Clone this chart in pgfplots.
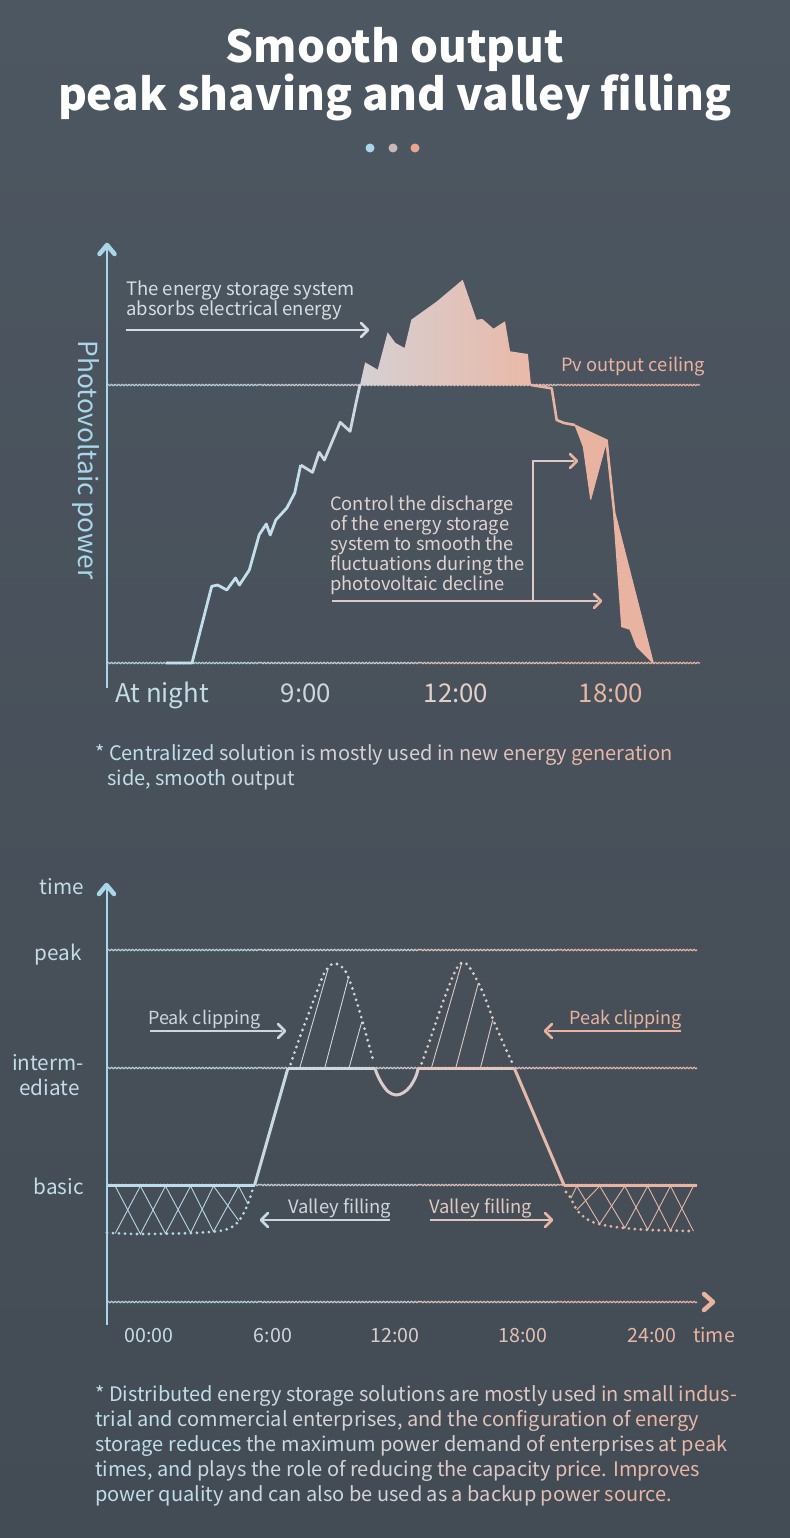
\documentclass[border=0pt]{standalone}
\usepackage{pgfplots}
\pgfplotsset{compat=1.18}
\usepackage{fontspec}
\setmainfont{Noto Sans CJK SC}
\usetikzlibrary{decorations.pathmorphing}
\newcommand{\fs}[1]{\fontsize{#1bp}{#1bp}\selectfont}
\definecolor{bgtop}{HTML}{4D5761}
\definecolor{bgbot}{HTML}{434B54}
\definecolor{axblue}{HTML}{A9D7EA}
\definecolor{c0}{HTML}{C3DCE8}
\definecolor{c1}{HTML}{CFD5DC}
\definecolor{c2}{HTML}{D8CDCD}
\definecolor{c3}{HTML}{E0C0B6}
\definecolor{c4}{HTML}{E8B6A5}
\definecolor{t0}{HTML}{C0DDEA}
\definecolor{t1}{HTML}{C9D8E0}
\definecolor{t2}{HTML}{D3D2D6}
\definecolor{t3}{HTML}{DBC9C7}
\definecolor{t4}{HTML}{E1BFB4}
\definecolor{t5}{HTML}{E7B6A5}
\definecolor{s0}{HTML}{B3CEDA}
\definecolor{s1}{HTML}{C8C9CE}
\definecolor{s2}{HTML}{D8BEB6}
\definecolor{s3}{HTML}{E1B3A4}
\definecolor{pvblue}{HTML}{C2DFEB}
\definecolor{pvmid}{HTML}{CCD9E0}
\definecolor{pk0}{HTML}{D6D0D3}
\definecolor{pk1}{HTML}{E9B9A8}
\definecolor{salmon}{HTML}{E8B3A1}
\definecolor{ann1}{HTML}{D6DCE1}
\definecolor{ann2}{HTML}{DFD3D1}
\definecolor{ann2l}{HTML}{DCCAC5}
\definecolor{d1}{HTML}{A9D6EA}
\definecolor{d2}{HTML}{C8B8B8}
\definecolor{d3}{HTML}{E7A68F}
\definecolor{sl0}{HTML}{BEDDEB}
\definecolor{sl1}{HTML}{C9D9E2}
\definecolor{sl2}{HTML}{D0D6DC}
\definecolor{sl3}{HTML}{D9CDCC}
\definecolor{sl4}{HTML}{DFC6BF}
\definecolor{sl5}{HTML}{E4BAAC}
\definecolor{sl6}{HTML}{E8B3A1}
\definecolor{dv1}{HTML}{B5D6E5}
\definecolor{dp1}{HTML}{CCD6DE}
\definecolor{dp2}{HTML}{DCCAC5}
\definecolor{dv2}{HTML}{E3B5A6}
\definecolor{vf1}{HTML}{D0D5DB}
\definecolor{vf2}{HTML}{DEC7C1}
\tikzset{every node/.style={inner sep=0pt},
  wavy/.style={line width=1.2bp, decorate, decoration={snake, amplitude=0.7bp, segment length=3.5bp}},
  dotc/.style={line width=3.1bp, line cap=round, dash pattern=on 0bp off 6bp},
  chev/.style={line width=2.6bp, line cap=round, line join=round}}
\begin{document}
\begin{tikzpicture}
\shade[top color=bgtop, bottom color=bgbot] (0bp,0bp) rectangle (790bp,-1538bp);
% title
\node[anchor=base, text=white, font=\fs{44}\bfseries] at (395bp,-62bp) {Smooth output};
\node[anchor=base, text=white, font=\fs{44}\bfseries] at (395bp,-110bp) {peak shaving and valley filling};
\fill[d1] (370bp,-148bp) circle (4.5bp);
\fill[d2] (393bp,-148bp) circle (4.5bp);
\fill[d3] (415bp,-148bp) circle (4.5bp);

% ---------------- chart 1 ----------------
\begin{axis}[at={(107bp,-663bp)}, anchor=south west, scale only axis,
  width=593bp, height=420bp, xmin=107, xmax=700, ymin=0, ymax=420,
  hide axis, clip=false]
\pgfplotsinvokeforeach{0,278}{
  \addplot[wavy, color=s0] coordinates {(107,#1) (260,#1)};
  \addplot[wavy, color=s1] coordinates {(260,#1) (420,#1)};
  \addplot[wavy, color=s2] coordinates {(420,#1) (560,#1)};
  \addplot[wavy, color=s3] coordinates {(560,#1) (700,#1)};
}
\addplot[draw=none, left color=pk0, right color=pk1] coordinates {
 (360,278) (365.1,300.7) (377.7,293.3) (387.6,330.7) (395.5,320) (404.6,315)
 (411.3,343.3) (437,361.7) (462.7,383.3) (476.5,343.3) (482.4,344) (493.5,334.3)
 (505,341.7) (510.1,311.7) (527.9,309) (531,278)} -- cycle;
\addplot[color=salmon, fill=salmon, line width=1bp, line join=round] coordinates {
 (575,238) (607.3,223) (615,150) (653.3,0) (648.3,4.7) (636.7,16.3) (630,33.7)
 (621.7,36.3) (613.5,150) (606,220) (590.7,163.7) (583.3,216.3)} -- cycle;
\addplot[color=pvblue, line width=2.8bp, line join=round] coordinates {
 (166,0) (192,0) (211.7,76.7) (217.7,78) (226.8,73) (235.5,85) (239.4,78) (249.3,93)
 (259.2,128.3) (266.3,139) (270.2,128) (275.8,143) (286.8,155) (294.7,170) (300.7,198)};
\addplot[color=pvmid, line width=2.8bp, line join=round] coordinates {
 (300.7,198) (312.5,190.7) (319.2,210.7) (324.4,203) (340.2,240.7) (350.1,231.7) (356,260) (360,278)};
\addplot[color=salmon, line width=2.6bp, line join=round] coordinates {
 (531,278) (551.7,274.7) (556.7,243) (564,240) (575,238)};
\draw[axblue, line width=2bp] (axis cs:107,-25) -- (axis cs:107,416);
\draw[axblue, chev, line width=4.5bp] (axis cs:99.5,409) -- (axis cs:107,418) -- (axis cs:114.5,409);
\end{axis}

\node[rotate=-90, text=axblue, font=\fs{26.3}] at (86bp,-460bp) {Photovoltaic power};
\node[anchor=base, text=c0, font=\fs{25.8}] at (162bp,-702bp) {At night};
\node[anchor=base, text=c1, font=\fs{25.8}] at (306bp,-702bp) {9:00};
\node[anchor=base, text={rgb,255:red,228;green,208;blue,202}, font=\fs{25.8}] at (456bp,-702bp) {12:00};
\node[anchor=base, text=c4, font=\fs{25.8}] at (611bp,-702bp) {18:00};

\node[anchor=base west, text=ann1, font=\fs{18.5}] at (126bp,-295bp) {The energy storage system};
\node[anchor=base west, text=ann1, font=\fs{18.5}] at (126bp,-315bp) {absorbs electrical energy};
\draw[ann1, line width=1.3bp] (126bp,-330bp) -- (366bp,-330bp);
\draw[ann1, chev] (361bp,-323bp) -- (368bp,-330bp) -- (361bp,-337bp);
\node[anchor=base west, text=salmon, font=\fs{18.3}] at (561bp,-371bp) {Pv output ceiling};

\node[anchor=base west, text=ann2, font=\fs{18.3}] at (330bp,-510bp) {Control the discharge};
\node[anchor=base west, text=ann2, font=\fs{18.3}] at (330bp,-530bp) {of the energy storage};
\node[anchor=base west, text=ann2, font=\fs{18.3}] at (330bp,-550bp) {system to smooth the};
\node[anchor=base west, text=ann2, font=\fs{18.3}] at (330bp,-570bp) {fluctuations during the};
\node[anchor=base west, text=ann2, font=\fs{18.3}] at (330bp,-590bp) {photovoltaic decline};
\draw[ann2l, line width=1.3bp] (574bp,-461bp) -- (533bp,-461bp) -- (533bp,-601bp);
\draw[ann2l, line width=1.3bp] (332bp,-601bp) -- (598bp,-601bp);
\draw[salmon, chev] (570bp,-454bp) -- (577bp,-461bp) -- (570bp,-468bp);
\draw[salmon, chev] (594bp,-594bp) -- (601bp,-601bp) -- (594bp,-608bp);

\node[anchor=base west, font=\fs{20}] at (95bp,-760bp) {{\color{t0}* Centralized }{\color{t1}solution is }{\color{t2}mostly used }{\color{t3}in new }{\color{t4}energy }{\color{t5}generation}};
\node[anchor=base west, font=\fs{20}] at (107bp,-785bp) {{\color{t0}side, smooth }{\color{t1}output}};

% ---------------- chart 2 ----------------
\begin{axis}[at={(107bp,-1302bp)}, anchor=south west, scale only axis,
  width=590bp, height=422bp, xmin=107, xmax=697, ymin=0, ymax=422,
  hide axis, clip=false]
\pgfplotsinvokeforeach{0,117,234,352}{
  \addplot[wavy, color=s0] coordinates {(107,#1) (260,#1)};
  \addplot[wavy, color=s1] coordinates {(260,#1) (420,#1)};
  \addplot[wavy, color=s2] coordinates {(420,#1) (560,#1)};
  \addplot[wavy, color=s3] coordinates {(560,#1) (697,#1)};
}
% valley hatching
\addplot[color=dv1, line width=0.9bp] coordinates {(115.2,116) (140.4,68) (165.5,116) (190.6,69) (213.5,116) (238.6,81.5)};
\addplot[color=dv1, line width=0.9bp] coordinates {(115.2,68.5) (140.4,116) (165.5,68.5) (190.6,116) (213.5,70.3) (238.6,116) (248,98)};
\addplot[color=dv2, line width=0.9bp] coordinates {(576.8,116) (599.7,78) (624.8,116) (647.7,72.3) (670.5,116) (693.4,71)};
\addplot[color=dv2, line width=0.9bp] coordinates {(571,104) (576.8,116)};
\addplot[color=dv2, line width=0.9bp] coordinates {(576.8,92.2) (599.7,116) (624.8,74) (647.7,116) (670.5,71.5) (693.4,116)};
% peak hatching
\addplot[color=dp1, line width=0.9bp] coordinates {(300,235) (328.3,333.7)};
\addplot[color=dp1, line width=0.9bp] coordinates {(325,235) (348.3,323.7)};
\addplot[color=dp1, line width=0.9bp] coordinates {(349.3,235) (361.7,280)};
\addplot[color=dp2, line width=0.9bp] coordinates {(431.7,235) (461.7,339)};
\addplot[color=dp2, line width=0.9bp] coordinates {(456,235) (478.3,318.7)};
\addplot[color=dp2, line width=0.9bp] coordinates {(480.7,235) (492.7,282)};
% dotted original load
\addplot[color=dv1, dotc, smooth, tension=0.5] coordinates {(107,69.3) (136.7,68) (183.3,68.7) (213.3,70.3) (226.7,72.7) (235,77) (241.7,85.3) (246.7,95.3) (250.7,106) (253.3,115.3)};
\addplot[color=dp1, dotc, smooth, tension=0.5] coordinates {(290.7,238) (300,265.3) (310,292) (320,318.7) (325,330.3) (331.7,337.7) (338.3,337.7) (346.7,328.7) (356.7,300.3) (366.7,265.3) (374,238.7)};
\addplot[color=dp2, dotc, smooth, tension=0.5] coordinates {(421.7,238.7) (430,262) (440,292) (450,318.7) (456.7,333.7) (461.7,339.3) (466.7,338) (473.3,328.7) (483.3,308.7) (493.3,282) (503.3,258.7) (511.7,240.3)};
\addplot[color=dv2, dotc, smooth, tension=0.5] coordinates {(566,110) (569.9,105.3) (577,92) (586.1,83.4) (597.4,78.4) (615.7,75) (638.5,72.7) (661.4,71.7) (691.1,71)};
% solid load after storage
\addplot[color=sl0, line width=3bp] coordinates {(107,117) (254.6,117)};
\addplot[color=sl1, line width=3bp, line join=round] coordinates {(254.6,117) (288,234)};
\addplot[color=sl2, line width=3bp] coordinates {(288,234) (375,234)};
\addplot[color=sl3, line width=3bp, smooth, tension=0.6] coordinates {(375,234) (376.7,228.7) (381.7,218.7) (388.3,210.3) (396,207) (403.3,209.3) (410,215.3) (415.7,225.3) (418.3,234)};
\addplot[color=sl4, line width=3bp] coordinates {(418.3,234) (514.2,234)};
\addplot[color=sl5, line width=3bp, line join=round] coordinates {(514.2,234) (564,117)};
\addplot[color=sl6, line width=3bp] coordinates {(564,117) (697,117)};
% axes
\draw[axblue, line width=2bp] (axis cs:107,-23) -- (axis cs:107,414);
\draw[axblue, chev, line width=4.5bp] (axis cs:99,408) -- (axis cs:106.5,417) -- (axis cs:114,408);
\draw[color=salmon, chev, line width=4.5bp] (axis cs:704,8) -- (axis cs:713,0) -- (axis cs:704,-8);
\end{axis}

\node[anchor=base east, text=c0, font=\fs{20.7}] at (84bp,-894bp) {time};
\node[anchor=base east, text=c0, font=\fs{20.7}] at (82bp,-960bp) {peak};
\node[anchor=base east, text=c0, font=\fs{20.7}] at (84bp,-1070bp) {interm-};
\node[anchor=base east, text=c0, font=\fs{20.7}] at (80bp,-1095bp) {ediate};
\node[anchor=base east, text=c0, font=\fs{20.7}] at (84bp,-1194bp) {basic};

\node[anchor=base, text=c0, font=\fs{19.6}] at (149bp,-1342bp) {00:00};
\node[anchor=base, text=c1, font=\fs{19.6}] at (273bp,-1342bp) {6:00};
\node[anchor=base, text=c2, font=\fs{19.6}] at (395bp,-1342bp) {12:00};
\node[anchor=base, text=c3, font=\fs{19.6}] at (523bp,-1342bp) {18:00};
\node[anchor=base, text=c4, font=\fs{19.6}] at (652bp,-1342bp) {24:00};
\node[anchor=base, text=salmon, font=\fs{19.6}] at (714bp,-1342bp) {time};

\node[anchor=base west, text=c1, font=\fs{18}] at (148bp,-1024bp) {Peak clipping};
\draw[c1, line width=1.3bp] (150bp,-1031bp) -- (282bp,-1031bp);
\draw[c1, chev] (278bp,-1024bp) -- (285bp,-1031bp) -- (278bp,-1038bp);
\node[anchor=base east, text=salmon, font=\fs{18}] at (682bp,-1024bp) {Peak clipping};
\draw[salmon, line width=1.3bp] (548bp,-1031bp) -- (681bp,-1031bp);
\draw[salmon, chev] (552bp,-1024bp) -- (545bp,-1031bp) -- (552bp,-1038bp);

\node[anchor=base west, text=vf1, font=\fs{18.4}] at (288bp,-1213bp) {Valley filling};
\draw[vf1, line width=1.3bp] (263bp,-1220bp) -- (390bp,-1220bp);
\draw[c0, chev] (268bp,-1213bp) -- (261bp,-1220bp) -- (268bp,-1227bp);
\node[anchor=base west, text=vf2, font=\fs{18.4}] at (429bp,-1213bp) {Valley filling};
\draw[vf2, line width=1.3bp] (430bp,-1220bp) -- (550bp,-1220bp);
\draw[c4, chev] (545bp,-1213bp) -- (552bp,-1220bp) -- (545bp,-1227bp);

\node[anchor=base west, font=\fs{20}] at (95bp,-1401bp) {{\color{t0}* Distributed }{\color{t1}energy storage }{\color{t2}solutions are }{\color{t3}mostly used }{\color{t4}in small }{\color{t5}indus-}};
\node[anchor=base west, font=\fs{20}] at (95bp,-1426bp) {{\color{t0}trial and }{\color{t1}commercial }{\color{t2}enterprises, }{\color{t3}and the }{\color{t4}configuration of }{\color{t5}energy}};
\node[anchor=base west, font=\fs{20}] at (95bp,-1451bp) {{\color{t0}storage reduces }{\color{t1}the maximum }{\color{t2}power demand }{\color{t3}of enterprises }{\color{t4}at }{\color{t5}peak}};
\node[anchor=base west, font=\fs{20}] at (95bp,-1476bp) {{\color{t0}times, and }{\color{t1}plays the role }{\color{t2}of reducing }{\color{t3}the capacity }{\color{t4}price. }{\color{t5}Improves}};
\node[anchor=base west, font=\fs{20}] at (95bp,-1501bp) {{\color{t0}power quality }{\color{t1}and can also }{\color{t2}be used as }{\color{t3}a backup }{\color{t4}power }{\color{t5}source.}};
\end{tikzpicture}
\end{document}
